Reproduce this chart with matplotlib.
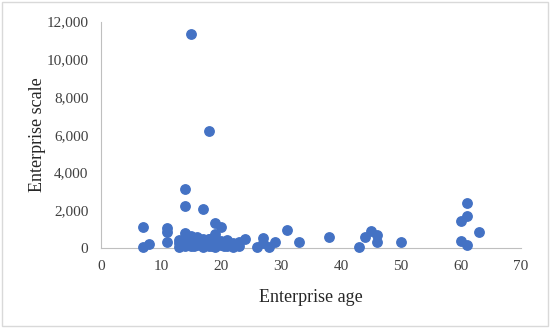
import matplotlib.pyplot as plt
from matplotlib.patches import Rectangle
from matplotlib.ticker import FuncFormatter

# enterprise age (years) and enterprise scale
age = [7, 7, 8, 11, 11, 11, 14, 14, 17, 19, 20, 14, 15, 19, 24,
       15, 18,
       13, 13, 13, 14, 14, 14, 15, 15, 15, 16, 16, 16, 17, 17, 17,
       18, 18, 18, 19, 19, 19, 20, 20, 20, 21, 21, 22, 22, 23, 16, 18, 21,
       23, 26, 27, 27, 28, 29, 31, 33, 38, 43, 44, 45, 46, 46, 50,
       61, 61, 60, 63, 60, 61,
       13.5, 14.5, 15.5, 16.5, 17.5, 18.5, 19.5, 20.5, 21.5, 22.5]
scale = [1100, 50, 210, 1040, 830, 320, 3120, 2200, 2050, 1300, 1130, 810, 635, 740, 476,
         11360, 6210,
         60, 250, 420, 100, 350, 520, 80, 300, 480, 150, 400, 200, 50, 280, 500,
         120, 350, 450, 70, 250, 550, 150, 380, 200, 90, 420, 250, 60, 320, 600, 500, 180,
         120, 70, 510, 250, 70, 300, 935, 300, 600, 30, 600, 920, 690, 300, 320,
         2365, 1710, 1410, 850, 390, 160,
         150, 200, 120, 250, 180, 100, 300, 120, 200, 150]

fig = plt.figure(figsize=(5.5, 3.28), dpi=100)
fig.patches.append(Rectangle((0.004, 0.006), 0.992, 0.988, transform=fig.transFigure,
                             fill=False, edgecolor="#D9D9D9", linewidth=1))
ax = fig.add_axes([0.1836, 0.244, 0.7636, 0.69])

ax.scatter(age, scale, s=46, color="#4472C4", zorder=3, clip_on=False)

ax.set_xlim(0, 70)
ax.set_ylim(0, 12000)
ax.set_xticks(range(0, 71, 10))
ax.set_yticks(range(0, 12001, 2000))
ax.yaxis.set_major_formatter(FuncFormatter(lambda v, p: f"{int(v):,}"))

for s in ["top", "right"]:
    ax.spines[s].set_visible(False)
for s in ["left", "bottom"]:
    ax.spines[s].set_color("#BFBFBF")
ax.tick_params(length=0, labelsize=11, colors="#404040", pad=9)
for lab in ax.get_xticklabels() + ax.get_yticklabels():
    lab.set_family("Liberation Serif")

ax.set_xlabel("Enterprise age", family="Liberation Serif", fontsize=13, color="#262626", labelpad=11)
ax.set_ylabel("Enterprise scale", family="Liberation Serif", fontsize=13, color="#262626", labelpad=0)

fig.savefig("out.png", dpi=100)
